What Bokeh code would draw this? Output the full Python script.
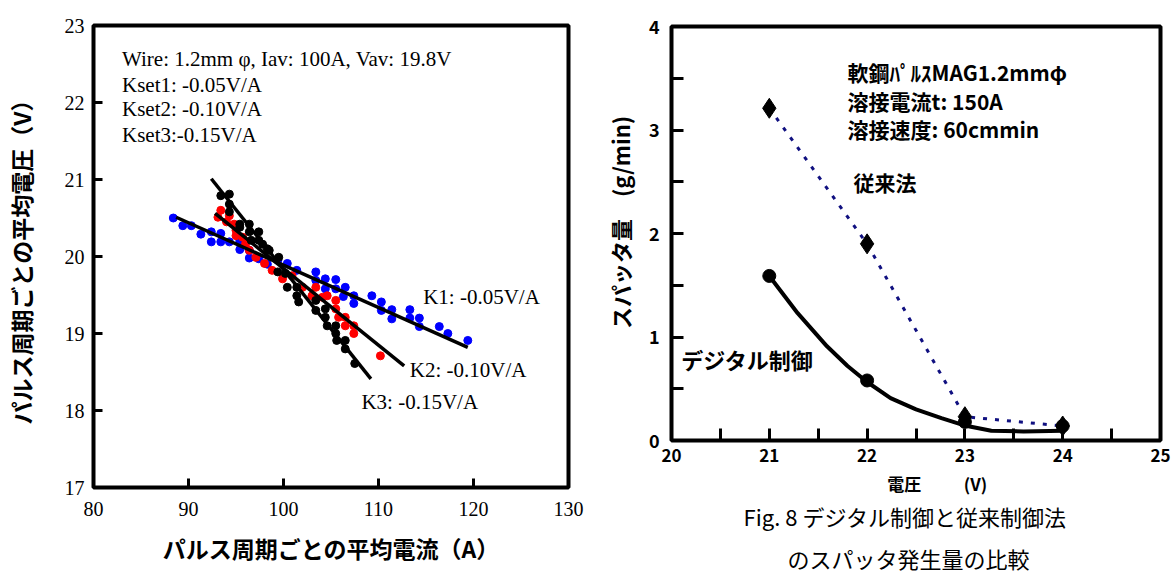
from bokeh.plotting import figure
from bokeh.layouts import row
from bokeh.models import Range1d, FixedTicker, Label, Title
from bokeh.embed import file_html
from bokeh.resources import INLINE

# ---------------- left chart data ----------------
k1_current = [88.4, 89.4, 90.3, 91.3, 92.4, 92.4, 93.4, 93.4, 94.3, 95.4, 95.4, 96.4, 96.4, 97.4,
              98.3, 99.4, 100.4, 101.4, 103.4, 103.4, 104.4, 104.4, 105.5, 105.5, 106.5, 106.3,
              107.4, 107.4, 109.3, 110.3, 110.3, 111.4, 111.4, 113.3, 113.3, 114.3, 114.3, 116.4,
              117.3, 119.4]
k1_voltage = [20.50, 20.40, 20.40, 20.29, 20.32, 20.19, 20.19, 20.30, 20.19, 20.20, 20.09, 20.08,
              19.98, 19.97, 19.90, 19.95, 19.91, 19.82, 19.80, 19.69, 19.71, 19.58, 19.70, 19.58,
              19.60, 19.48, 19.49, 19.39, 19.49, 19.41, 19.30, 19.31, 19.19, 19.31, 19.20, 19.20,
              19.09, 19.09, 19.00, 18.91]
k2_current = [93.1, 93.4, 94.3, 94.0, 94.8, 95.0, 95.0, 95.7, 96.0, 96.4, 97.1, 98.0, 98.8, 99.9,
              100.9, 102.0, 103.0, 103.4, 104.1, 104.6, 105.5, 105.5, 105.8, 106.5, 106.5, 107.4,
              107.4, 110.2]
k2_voltage = [20.51, 20.60, 20.53, 20.45, 20.42, 20.34, 20.27, 20.25, 20.16, 20.08, 19.99, 19.91,
              19.82, 19.71, 19.75, 19.60, 19.49, 19.60, 19.47, 19.49, 19.43, 19.32, 19.21, 19.21,
              19.10, 19.10, 19.00, 18.71]
k3_current = [93.4, 94.3, 94.3, 94.3, 95.4, 95.4, 96.4, 96.4, 96.6, 97.4, 97.4, 97.8, 98.3, 98.5,
              99.5, 99.4, 100.2, 100.4, 101.4, 101.4, 101.6, 103.4, 103.4, 104.4, 104.4, 104.6,
              105.5, 105.5, 105.6, 106.5, 106.5, 107.5]
k3_voltage = [20.79, 20.81, 20.68, 20.58, 20.42, 20.38, 20.42, 20.32, 20.21, 20.32, 20.21, 20.16,
              20.10, 20.08, 19.99, 19.80, 19.78, 19.60, 19.60, 19.49, 19.41, 19.43, 19.30, 19.32,
              19.21, 19.10, 19.10, 19.00, 18.91, 18.91, 18.80, 18.61]
fit1_current = [88.7, 119.4]
fit1_voltage = [20.51, 18.82]
fit2_current = [92.8, 112.7]
fit2_voltage = [20.56, 18.58]
fit3_current = [92.4, 109.2]
fit3_voltage = [21.01, 18.41]
left_xticks = [80, 90, 100, 110, 120, 130]
left_yticks = [17, 18, 19, 20, 21, 22, 23]

# ---------------- right chart data ----------------
voltage = [21, 22, 23, 24]
spatter_conventional = [3.21, 1.90, 0.23, 0.14]
spatter_digital = [1.59, 0.58, 0.18, 0.14]
curve_voltage = [21.0, 21.29, 21.59, 21.8, 22.0, 22.24, 22.5, 22.76, 23.01, 23.27, 23.6, 24.0]
curve_spatter = [1.59, 1.23, 0.91, 0.72, 0.565, 0.41, 0.30, 0.216, 0.142, 0.094, 0.087, 0.094]
right_xticks = [20, 21, 22, 23, 24, 25]
right_xminor = [20.5, 21.5, 22.5, 23.5, 24.5]
right_yticks = [0, 1, 2, 3, 4]
right_yminor = [0.5, 1.5, 2.5, 3.5]

SERIF = "Liberation Serif"
JP = "Noto Sans CJK JP"

# ================= left figure =================
p1 = figure(width=600, height=578, x_range=Range1d(80, 130), y_range=Range1d(17, 23),
            output_backend="svg", toolbar_location=None, frame_align=False,
            min_border_left=90, min_border_right=32, min_border_top=25, min_border_bottom=91)
p1.grid.visible = False
p1.outline_line_color = "black"
p1.outline_line_width = 4
p1.outline_line_alpha = 1
p1.background_fill_color = "white"
p1.border_fill_color = "white"

for ax, ticks in ((p1.xaxis[0], left_xticks), (p1.yaxis[0], left_yticks)):
    ax.ticker = FixedTicker(ticks=ticks)
    ax.axis_line_color = None
    ax.major_tick_in = 9
    ax.major_tick_out = 0
    ax.minor_tick_in = 0
    ax.minor_tick_out = 0
    ax.major_tick_line_width = 3
    ax.major_tick_line_color = "black"
    ax.major_label_text_font = SERIF
    ax.major_label_text_font_size = "20px"
    ax.major_label_text_color = "black"
    ax.axis_label_text_font = JP
    ax.axis_label_text_font_size = "23px"
    ax.axis_label_text_font_style = "bold"
    ax.axis_label_text_color = "black"

p1.xaxis.major_label_standoff = 14
p1.yaxis.major_label_standoff = 9
p1.xaxis.axis_label = "パルス周期ごとの平均電流（A）"
p1.xaxis.axis_label_standoff = 12
p1.yaxis.axis_label = "パルス周期ごとの平均電圧（V）"
p1.yaxis.axis_label_standoff = 24

p1.scatter(k1_current, k1_voltage, size=8, color="#0000ff")
p1.scatter(k2_current, k2_voltage, size=8, color="#ff0000")
p1.scatter(k3_current, k3_voltage, size=8, color="black")
p1.line(fit1_current, fit1_voltage, line_width=3.5, color="black")
p1.line(fit2_current, fit2_voltage, line_width=3.5, color="black")
p1.line(fit3_current, fit3_voltage, line_width=3.5, color="black")

left_notes = [("Wire: 1.2mm φ, Iav: 100A, Vav: 19.8V", 83.0, 22.57),
              ("Kset1: -0.05V/A", 83.0, 22.23),
              ("Kset2: -0.10V/A", 83.0, 21.91),
              ("Kset3:-0.15V/A", 83.0, 21.58),
              ("K1: -0.05V/A", 114.7, 19.47),
              ("K2: -0.10V/A", 113.3, 18.52),
              ("K3: -0.15V/A", 108.2, 18.11)]
for txt, x, y in left_notes:
    p1.add_layout(Label(x=x, y=y, text=txt, text_font=SERIF, text_font_size="21px",
                        text_color="black", text_align="left", text_baseline="middle"))

# ================= right figure =================
p2 = figure(width=571, height=578, x_range=Range1d(20, 25), y_range=Range1d(0, 4),
            output_backend="svg", toolbar_location=None, frame_align=False,
            min_border_left=65, min_border_right=11, min_border_top=26, min_border_bottom=138)
p2.grid.visible = False
p2.outline_line_color = "black"
p2.outline_line_width = 4
p2.background_fill_color = "white"
p2.border_fill_color = "white"

for ax, ticks, minor in ((p2.xaxis[0], right_xticks, right_xminor),
                         (p2.yaxis[0], right_yticks, right_yminor)):
    ax.ticker = FixedTicker(ticks=ticks, minor_ticks=minor)
    ax.axis_line_color = None
    ax.major_tick_in = 12
    ax.major_tick_out = 0
    ax.minor_tick_in = 12
    ax.minor_tick_out = 0
    ax.major_tick_line_width = 3
    ax.minor_tick_line_width = 3
    ax.major_tick_line_color = "black"
    ax.minor_tick_line_color = "black"
    ax.major_label_text_font = JP
    ax.major_label_text_font_size = "17px"
    ax.major_label_text_font_style = "bold"
    ax.major_label_text_color = "black"
    ax.axis_label_text_font = JP
    ax.axis_label_text_font_style = "bold"
    ax.axis_label_text_color = "black"

p2.yaxis.major_label_text_font_size = "18px"
p2.xaxis.major_label_standoff = 8
p2.yaxis.major_label_standoff = 12
p2.xaxis.axis_label = "\u3000\u3000\u2002電圧\u3000\u3000\u2002(V)"
p2.xaxis.axis_label_text_font_size = "17px"
p2.xaxis.axis_label_standoff = 6
p2.yaxis.axis_label = "\u3000スパッタ量\u3000(g/min)"
p2.yaxis.axis_label_text_font_size = "22px"
p2.yaxis.axis_label_standoff = 10

p2.line(voltage, spatter_conventional, line_width=3, color="#101080", line_dash="4 8")
p2.line(curve_voltage, curve_spatter, line_width=4, color="black")
p2.scatter(voltage, spatter_conventional, marker="diamond", size=20, color="black")
p2.scatter(voltage, spatter_digital, marker="circle", size=13, color="black")

right_notes = [("軟鋼ﾊﾟﾙｽMAG1.2mmφ", 21.80, 3.556),
               ("溶接電流t: 150A", 21.80, 3.285),
               ("溶接速度: 60cmmin", 21.80, 3.014),
               ("従来法", 21.86, 2.50),
               ("デジタル制御", 20.10, 0.79)]
for txt, x, y in right_notes:
    size = "22px" if txt == "デジタル制御" else "21px"
    p2.add_layout(Label(x=x, y=y, text=txt, text_font=JP, text_font_size=size,
                        text_font_style="bold", text_color="black",
                        text_align="left", text_baseline="middle"))

# figure caption (two lines) below the axis
caption_lines = ["Fig. 8 デジタル制御と従来制御法\u3000",
                 "\u3000\u3000のスパッタ発生量の比較"]
caption = Title(text="\n".join(caption_lines), align="center",
                text_font=JP, text_font_size="22px", text_font_style="normal",
                text_color="black", text_line_height=1.32, standoff=0)
p2.add_layout(caption, "below")

layout = row(p1, p2)
open("out.html", "w").write(file_html(layout, INLINE))
